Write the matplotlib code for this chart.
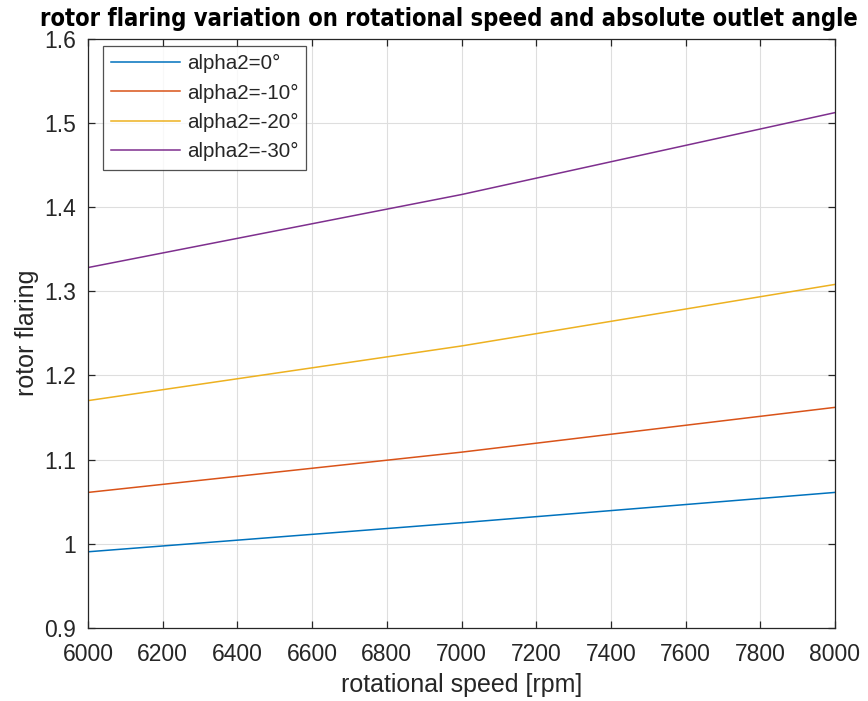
import matplotlib
matplotlib.use("Agg")
import matplotlib.pyplot as plt
from matplotlib import font_manager
from matplotlib.font_manager import FontProperties

# rotational speed samples [rpm]
speed = [6000, 7000, 8000]

# rotor flaring for each absolute outlet angle
flaring_0 = [0.9905, 1.0250, 1.0610]
flaring_m10 = [1.0610, 1.1088, 1.1620]
flaring_m20 = [1.1700, 1.2349, 1.3080]
flaring_m30 = [1.3280, 1.4147, 1.5120]

labels = ["alpha2=0°", "alpha2=-10°", "alpha2=-20°", "alpha2=-30°"]
colors = ["#0072BD", "#D95319", "#EDB120", "#7E2F8E"]

xticks = list(range(6000, 8001, 200))
yticks = [0.9, 1.0, 1.1, 1.2, 1.3, 1.4, 1.5, 1.6]
yticklabels = ["0.9", "1", "1.1", "1.2", "1.3", "1.4", "1.5", "1.6"]

plt.rcParams["font.family"] = ["Liberation Sans", "DejaVu Sans"]

# narrow bold face for the title, when one is installed
title_fp = None
cands = []
for f in font_manager.fontManager.ttflist:
    if ("Narrow" in f.name or "Condensed" in f.name or
            str(f.stretch) in ("condensed", "semi-condensed", "extra-condensed")) \
            and "Mono" not in f.name and "Serif" not in f.name and f.style == "normal":
        cands.append(f)
bold = [f for f in cands if str(f.weight) in ("bold", "700", "600", "semibold")]
pick = bold[0] if bold else (cands[0] if cands else None)
if pick is not None:
    title_fp = FontProperties(fname=pick.fname, size=17.0)
    if not bold:
        title_fp.set_weight("bold")
else:
    title_fp = FontProperties(family="Liberation Sans", weight="bold", size=14.5)

fig = plt.figure(figsize=(8.68, 7.01), dpi=100)
ax = fig.add_axes([88 / 868, 1 - 628 / 701, (835 - 88) / 868, (628 - 38.5) / 701])

for ys, lab, c in zip([flaring_0, flaring_m10, flaring_m20, flaring_m30], labels, colors):
    ax.plot(speed, ys, color=c, lw=1.1, label=lab)

ax.set_xlim(6000, 8000)
ax.set_ylim(0.9, 1.6)
ax.set_xticks(xticks)
ax.set_yticks(yticks)
ax.set_yticklabels(yticklabels)
ax.grid(True, color="#dedede", lw=0.8)
ax.set_axisbelow(True)

axis_col = "#262626"
for s in ax.spines.values():
    s.set_color(axis_col)
    s.set_linewidth(0.9)
ax.tick_params(direction="in", length=5, width=0.9, color=axis_col,
               labelcolor=axis_col, labelsize=16.5, top=True, right=True)
ax.tick_params(axis="x", pad=11)
ax.tick_params(axis="y", pad=8.5)

ax.set_xlabel("rotational speed [rpm]", fontsize=18, color=axis_col, labelpad=5)
ax.set_ylabel("rotor flaring", fontsize=18, color=axis_col, labelpad=4)
fig.text(448.5 / 868, 1 - 26 / 701,
         "rotor flaring variation on rotational speed and absolute outlet angle",
         fontproperties=title_fp, color="black", ha="center", va="baseline")

leg = ax.legend(loc="upper left", bbox_to_anchor=(15 / 747, 1 - 7.5 / 589.5),
                fontsize=14.8, frameon=True, fancybox=False, edgecolor=axis_col,
                borderpad=0.4, handlelength=3.37, handletextpad=0.3,
                labelspacing=0.5, borderaxespad=0)
leg.get_frame().set_linewidth(0.9)
for t in leg.get_texts():
    t.set_color(axis_col)

fig.savefig("out.png", dpi=100)
